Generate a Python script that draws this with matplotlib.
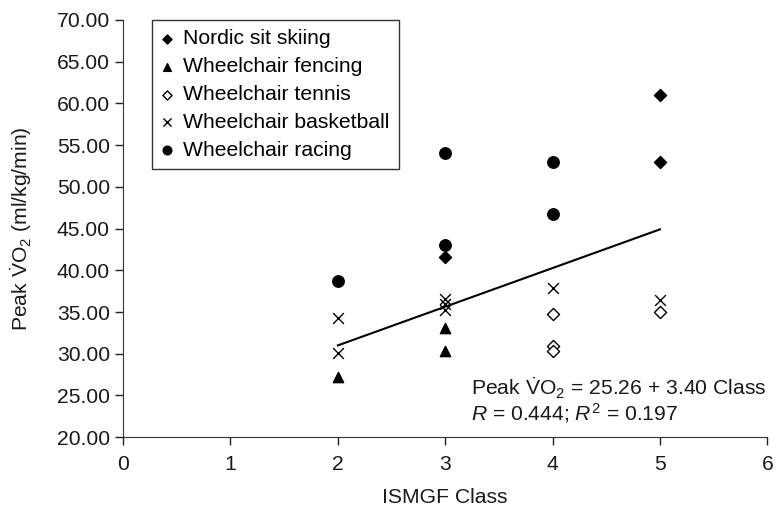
import numpy as np
import matplotlib
matplotlib.use("Agg")
import matplotlib.pyplot as plt

plt.rcParams['font.family'] = ['Liberation Sans', 'DejaVu Sans']
plt.rcParams['mathtext.fontset'] = 'custom'
plt.rcParams['mathtext.rm'] = 'Liberation Sans'
plt.rcParams['mathtext.it'] = 'Liberation Sans:italic'

# Peak VO2 values, grouped by sport
nordic_x = [3, 5, 5]
nordic_y = [41.6, 61.0, 53.0]
fencing_x = [2, 3, 3]
fencing_y = [27.2, 33.1, 30.3]
tennis_x = [4, 4, 4, 5]
tennis_y = [34.8, 30.9, 30.3, 35.0]
basket_x = [2, 2, 3, 3, 3, 4, 5]
basket_y = [34.3, 30.1, 36.5, 36.0, 35.2, 37.9, 36.4]
racing_x = [2, 3, 3, 4, 4]
racing_y = [38.7, 54.1, 43.0, 53.0, 46.7]

# regression line as drawn
fit_x = [2, 5]
fit_y = [31.0, 44.9]

FS = 15.2
fig = plt.figure(figsize=(7.79, 5.09), dpi=100)
ax = fig.add_axes([0.158, 0.141, 0.827, 0.82])

ax.plot(fit_x, fit_y, color='black', lw=1.5, zorder=1)

ax.scatter(nordic_x, nordic_y, marker='D', s=38, color='black', label='Nordic sit skiing', zorder=3)
ax.scatter(fencing_x, fencing_y, marker='^', s=55, color='black', label='Wheelchair fencing', zorder=3)
ax.scatter(tennis_x, tennis_y, marker='D', s=38, facecolor='white', edgecolor='black',
           linewidth=1, label='Wheelchair tennis', zorder=3)
ax.scatter(basket_x, basket_y, marker='x', s=60, color='black', linewidth=1,
           label='Wheelchair basketball', zorder=3)
ax.scatter(racing_x, racing_y, marker='o', s=68, color='black', label='Wheelchair racing', zorder=3)

ax.set_xlim(0, 6)
ax.set_ylim(20, 70)
ax.set_xticks(range(0, 7))
ax.set_yticks(np.arange(20, 71, 5))
ax.set_yticklabels([f"{v:.2f}" for v in np.arange(20, 71, 5)])
ax.tick_params(labelsize=FS, length=6, width=1, colors='#222222', labelcolor='#1a1a1a')
ax.tick_params(axis='x', pad=7)
for side in ['top', 'right']:
    ax.spines[side].set_visible(False)
for side in ['left', 'bottom']:
    ax.spines[side].set_color('#333333')

ax.set_xlabel('ISMGF Class', fontsize=FS, color='#1a1a1a', labelpad=10)
ax.set_ylabel(r'Peak $\dot{\mathrm{V}}\mathrm{O}_2$ (ml/kg/min)', fontsize=FS,
              color='#1a1a1a', labelpad=16)

leg = ax.legend(loc='upper left', bbox_to_anchor=(0.045, 1.0), borderaxespad=0,
                fontsize=FS, frameon=True, fancybox=False, handlelength=0.5,
                handletextpad=0.5, labelspacing=0.42, borderpad=0.45, markerscale=0.75)
leg.get_frame().set_edgecolor('black')
leg.get_frame().set_linewidth(1)

ax.text(0.54, 0.10, r'Peak $\dot{\mathrm{V}}\mathrm{O}_2$ = 25.26 + 3.40 Class',
        transform=ax.transAxes, fontsize=FS, color='#1a1a1a')
ax.text(0.54, 0.04, r'$R$ = 0.444; $R^2$ = 0.197',
        transform=ax.transAxes, fontsize=FS, color='#1a1a1a')

fig.savefig('out.png', dpi=100)
